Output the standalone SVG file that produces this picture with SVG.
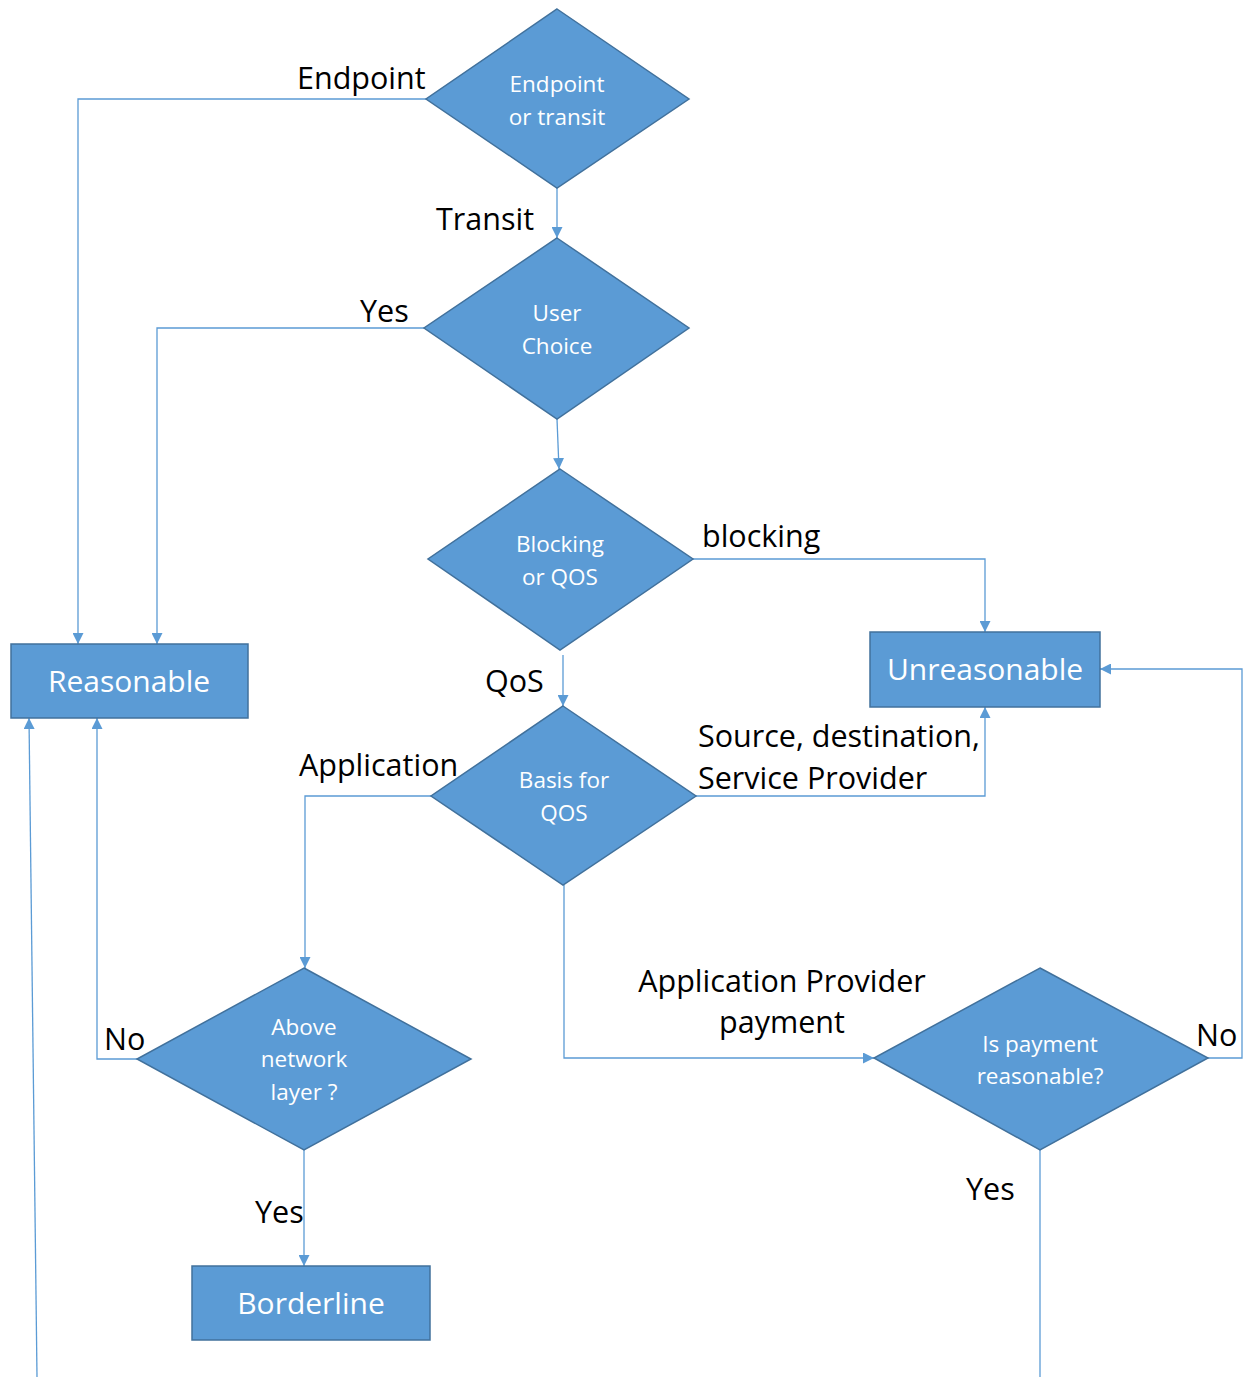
<svg xmlns="http://www.w3.org/2000/svg" width="1243" height="1377" viewBox="0 0 1243 1377">
<defs>
<style>
.shape{fill:#5B9BD5;stroke:#41719C;stroke-width:1.5}
.dt{font-family:"Open Sans","Liberation Sans",sans-serif;font-size:22.5px;fill:#fff;text-anchor:middle}
.bt{font-family:"Open Sans","Liberation Sans",sans-serif;font-size:30px;fill:#fff;text-anchor:middle}
.lb{font-family:"Open Sans","Liberation Sans",sans-serif;font-size:30.5px;fill:#000}
.c{fill:none;stroke:#5B9BD5;stroke-width:1.3}
</style>
<marker id="ah" viewBox="0 0 10 10" refX="10" refY="5" markerWidth="11" markerHeight="11" markerUnits="userSpaceOnUse" orient="auto">
<path d="M0,0 L10,5 L0,10 z" fill="#5B9BD5"/>
</marker>
</defs>
<rect width="1243" height="1377" fill="#fff"/>
<g id="connectors">
<polyline class="c" points="426,99 78,99 78,644" marker-end="url(#ah)"/>
<polyline class="c" points="557,188 557,238" marker-end="url(#ah)"/>
<polyline class="c" points="424,328 157,328 157,644" marker-end="url(#ah)"/>
<polyline class="c" points="557,419 559,469" marker-end="url(#ah)"/>
<polyline class="c" points="693,559 985,559 985,632" marker-end="url(#ah)"/>
<polyline class="c" points="563,655 563,706" marker-end="url(#ah)"/>
<polyline class="c" points="696,796 985,796 985,707" marker-end="url(#ah)"/>
<polyline class="c" points="431,796 305,796 305,968" marker-end="url(#ah)"/>
<polyline class="c" points="564,885 564,1058 874,1058" marker-end="url(#ah)"/>
<polyline class="c" points="137,1059 97,1059 97,718" marker-end="url(#ah)"/>
<polyline class="c" points="304,1150 304,1266" marker-end="url(#ah)"/>
<polyline class="c" points="1208,1058 1242,1058 1242,669 1100,669" marker-end="url(#ah)"/>
<polyline class="c" points="1040,1150 1040,1377"/>
<polyline class="c" points="37,1377 29,718" marker-end="url(#ah)"/>
</g>
<g id="endpoint-or-transit">
<polygon class="shape" points="557,9 689,99 557,188 426,99"/>
<text class="dt" x="557" y="92">Endpoint</text>
<text class="dt" x="557" y="125">or transit</text>
</g>
<g id="user-choice">
<polygon class="shape" points="557,238 689,328 557,419 424,328"/>
<text class="dt" x="557" y="321">User</text>
<text class="dt" x="557" y="354">Choice</text>
</g>
<g id="blocking-or-qos">
<polygon class="shape" points="560,469 693,559 560,650 428,559"/>
<text class="dt" x="560" y="552">Blocking</text>
<text class="dt" x="560" y="585">or QOS</text>
</g>
<g id="basis-for-qos">
<polygon class="shape" points="563,706 696,796 563,885 431,796"/>
<text class="dt" x="564" y="788">Basis for</text>
<text class="dt" x="564" y="821">QOS</text>
</g>
<g id="above-network-layer">
<polygon class="shape" points="304,968 471,1059 304,1150 137,1059"/>
<text class="dt" x="304" y="1035">Above</text>
<text class="dt" x="304" y="1067">network</text>
<text class="dt" x="304" y="1100">layer ?</text>
</g>
<g id="is-payment-reasonable">
<polygon class="shape" points="1040,968 1208,1058 1040,1150 874,1058"/>
<text class="dt" x="1040" y="1052">Is payment</text>
<text class="dt" x="1040" y="1084">reasonable?</text>
</g>
<g id="reasonable">
<rect class="shape" x="11" y="644" width="237" height="74"/>
<text class="bt" x="129" y="692">Reasonable</text>
</g>
<g id="unreasonable">
<rect class="shape" x="870" y="632" width="230" height="75"/>
<text class="bt" x="985" y="680">Unreasonable</text>
</g>
<g id="borderline">
<rect class="shape" x="192" y="1266" width="238" height="74"/>
<text class="bt" x="311" y="1314">Borderline</text>
</g>
<g id="labels">
<text class="lb" x="297" y="89">Endpoint</text>
<text class="lb" x="436" y="230">Transit</text>
<text class="lb" x="360" y="322">Yes</text>
<text class="lb" x="702" y="547">blocking</text>
<text class="lb" x="485" y="692">QoS</text>
<text class="lb" x="299" y="776">Application</text>
<text class="lb" x="698" y="747">Source, destination,</text>
<text class="lb" x="698" y="789">Service Provider</text>
<text class="lb" x="782" y="992" text-anchor="middle">Application Provider</text>
<text class="lb" x="782" y="1033" text-anchor="middle">payment</text>
<text class="lb" x="104" y="1050">No</text>
<text class="lb" x="1196" y="1046">No</text>
<text class="lb" x="255" y="1223">Yes</text>
<text class="lb" x="966" y="1200">Yes</text>
</g>
</svg>
